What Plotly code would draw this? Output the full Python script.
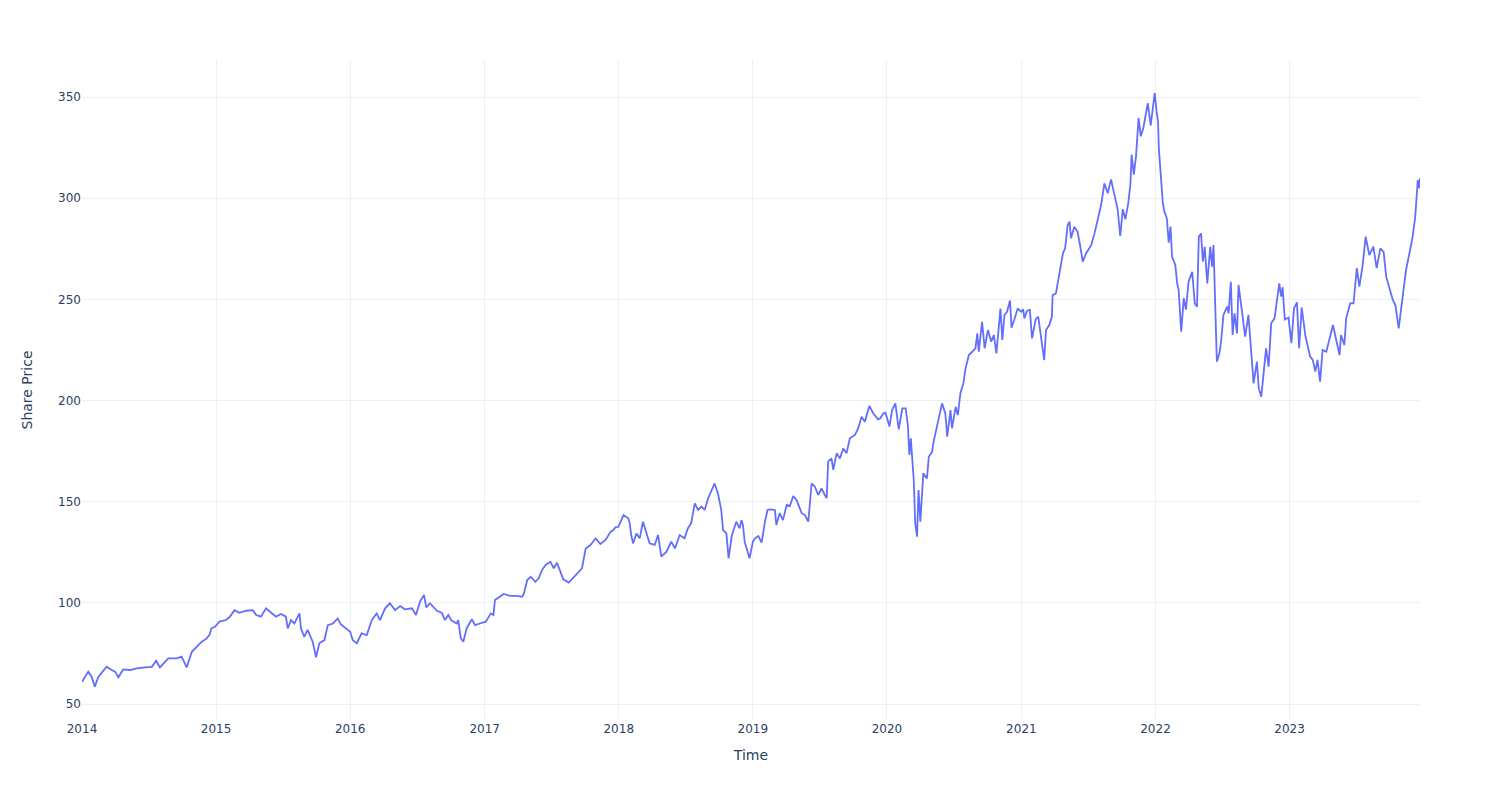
import plotly.graph_objects as go

# Share price readings per year: month-day and value
md_2014 = ["01-01","01-18","01-27","02-05","02-14","03-09","03-23","04-01","04-10","04-23","05-12","05-30",
           "06-22","07-10","07-22","08-01","08-24","09-16","09-29","10-13","10-27","11-09","11-23","12-06",
           "12-15","12-19","12-29"]
px_2014 = [61.0,66.0,63.5,58.6,63.2,68.4,66.8,66.0,63.2,67.1,66.8,67.6,
           68.1,68.4,71.4,68.1,72.6,72.6,73.4,68.1,75.8,78.3,80.8,82.3,
           84.5,87.4,88.2]

md_2015 = ["01-10","01-28","02-08","02-20","03-05","03-24","04-11","04-20","05-03","05-17","05-31","06-13",
           "06-27","07-10","07-15","07-24","08-02","08-16","08-20","08-29","09-07","09-21","09-30","10-09",
           "10-23","11-01","11-15","11-28","12-06","12-21"]
px_2015 = [90.7,91.5,93.2,96.4,95.1,96.1,96.4,94.0,93.2,97.3,95.1,93.2,
           94.5,93.2,87.4,91.5,89.8,94.8,87.4,83.2,86.6,80.8,73.1,80.0,
           81.6,89.0,89.8,92.3,89.5,87.4]

md_2016 = ["01-01","01-08","01-19","02-01","02-15","02-29","03-13","03-22","04-05","04-18","05-02","05-16",
           "05-29","06-17","06-28","07-09","07-20","07-26","08-05","08-24","09-06","09-15","09-24","10-03",
           "10-17","10-21","10-28","11-04","11-13","11-27","12-06","12-19"]
px_2016 = [85.7,81.6,80.0,84.9,84.1,91.5,94.8,91.5,97.3,99.8,96.4,98.4,
           96.8,97.3,94.0,100.6,103.9,97.8,99.8,96.1,95.1,91.5,94.0,91.2,
           89.8,91.5,82.5,80.8,87.4,91.9,89.0,89.8]

md_2017 = ["01-04","01-18","01-25","01-29","02-09","02-22","03-12","03-30","04-13","04-18","04-27","05-06",
           "05-19","05-28","06-06","06-16","06-29","07-08","07-17","07-25","08-03","08-18","09-01","09-14",
           "09-23","10-03","10-16","10-30","11-12","11-26","12-03","12-10","12-17","12-23","12-31"]
px_2017 = [90.7,94.8,94.0,101.4,102.7,104.4,103.4,103.4,103.0,104.7,111.3,112.9,
           110.4,112.1,116.2,118.7,120.3,117.1,119.8,116.2,111.6,110.0,112.9,115.4,
           117.1,126.9,128.6,131.9,129.1,131.1,133.5,135.2,136.0,137.3,137.6]

md_2018 = ["01-14","01-27","01-31","02-04","02-09","02-18","02-27","03-08","03-17","03-26","04-09","04-18",
           "04-27","05-11","05-24","06-03","06-16","06-29","07-08","07-17","07-27","08-05","08-14","08-23",
           "09-01","09-10","09-19","09-28","10-07","10-12","10-21","10-27","11-05","11-17","11-26","12-01",
           "12-05","12-10","12-23"]
px_2018 = [143.4,141.8,139.3,133.5,129.4,134.3,131.9,140.1,135.2,129.4,128.6,133.5,
           122.8,125.3,130.2,126.9,133.5,131.9,136.8,139.3,149.2,145.9,147.6,145.9,
           151.6,154.9,159.0,154.1,145.9,136.0,134.3,122.0,133.5,140.1,136.8,140.9,
           138.5,130.0,122.0]

md_2019 = ["01-01","01-07","01-16","01-25","02-03","02-10","02-16","03-02","03-06","03-15","03-24","04-03",
           "04-12","04-21","04-30","05-14","05-23","06-01","06-10","06-19","06-28","07-07","07-16","07-21",
           "07-25","08-03","08-08","08-17","08-26","09-04","09-13","09-22","10-06","10-15","10-24","11-02",
           "11-14","11-25","12-08","12-14","12-22","12-28"]
px_2019 = [130.2,131.9,133.0,129.8,140.1,145.9,146.2,145.9,138.5,144.3,140.9,148.4,
           147.9,152.8,150.8,144.3,143.4,140.1,159.0,157.4,153.3,156.6,153.3,151.7,
           169.8,171.4,165.7,173.9,171.4,176.3,173.9,181.3,183.0,186.3,192.0,189.5,
           197.3,193.6,190.7,191.2,193.6,194.0]

md_2020 = ["01-08","01-15","01-24","02-02","02-12","02-21","02-27","03-02","03-06","03-14","03-18","03-23",
           "03-27","04-01","04-09","04-19","04-24","05-03","05-07","05-12","05-21","05-30","06-08","06-13",
           "06-22","06-26","07-06","07-12","07-19","07-27","08-02","08-11","08-20","08-29","09-03","09-07",
           "09-16","09-23","10-02","10-11","10-18","10-25","11-05","11-10","11-16","11-23","12-01","12-05",
           "12-13","12-22","12-26"]
px_2020 = [187.2,195.3,198.6,185.8,196.1,196.1,187.9,173.1,181.3,160.7,139.3,132.7,
           155.8,140.1,164.0,161.5,172.2,174.7,179.6,183.8,190.4,198.6,193.6,182.1,
           195.3,186.3,196.9,192.8,203.6,208.5,215.9,222.5,224.1,225.8,233.2,224.1,
           238.9,225.8,234.8,229.1,232.4,223.3,245.5,229.9,242.3,243.9,249.4,236.0,
           240.2,245.5,244.7]

md_2021 = ["01-01","01-06","01-09","01-16","01-24","01-30","02-09","02-16","02-25","03-04","03-09","03-18",
           "03-25","03-27","04-05","04-10","04-17","04-24","04-30","05-07","05-12","05-16","05-25","06-03",
           "06-12","06-17","06-26","07-10","07-19","07-28","08-06","08-15","08-24","09-02","09-11","09-20",
           "09-27","10-04","10-11","10-19","10-25","10-28","11-03","11-09","11-16","11-22","11-29","12-03",
           "12-11","12-19","12-30"]
px_2021 = [243.9,245.1,240.6,244.3,244.9,230.7,240.2,241.4,229.9,220.0,234.8,237.3,
           241.4,252.1,252.9,258.7,266.1,272.7,275.2,286.7,288.4,280.2,285.9,283.4,
           274.4,268.6,272.7,276.8,282.6,289.2,296.6,307.3,302.4,309.3,301.1,294.5,
           281.3,294.5,289.6,297.6,307.5,321.5,311.6,320.7,339.6,330.6,334.7,339.0,
           347.0,336.0,352.0]

md_2022 = ["01-04","01-08","01-10","01-16","01-21","01-25","02-01","02-06","02-11","02-15","02-24","03-01",
           "03-05","03-12","03-19","03-25","04-01","04-11","04-18","04-24","04-29","05-05","05-10","05-15",
           "05-22","05-30","06-04","06-08","06-11","06-17","06-24","06-29","07-05","07-15","07-19","07-25",
           "07-30","08-04","08-11","08-15","08-24","09-02","09-11","09-19","09-25","10-04","10-09","10-16",
           "10-22","10-29","11-05","11-12","11-21","11-27","12-04","12-09","12-13","12-19","12-29"]
px_2022 = [342.9,337.8,325.0,309.5,297.5,293.5,290.0,278.0,286.0,271.1,267.0,257.9,
           254.6,234.0,250.6,244.9,258.7,263.6,248.0,246.4,281.0,282.6,268.6,276.0,
           257.9,276.0,266.1,276.8,253.0,219.2,223.3,229.9,242.3,246.4,243.1,258.7,
           232.4,243.1,233.2,257.1,244.7,231.6,242.3,222.5,208.5,219.2,206.1,201.9,
           212.6,225.8,216.7,238.2,240.6,249.7,257.9,251.3,256.0,240.0,241.0]

md_2023 = ["01-06","01-13","01-21","01-27","02-03","02-13","02-26","03-05","03-12","03-18","03-25","04-01",
           "04-11","04-20","04-29","05-08","05-17","05-21","05-30","06-04","06-15","06-24","07-03","07-10",
           "07-19","07-27","08-06","08-17","08-26","09-05","09-14","09-21","09-30","10-09","10-16","10-25",
           "11-03","11-14","11-25","12-02","12-09","12-13","12-16","12-20","12-22"]
px_2023 = [228.3,245.5,248.5,225.8,246.0,232.0,221.7,220.1,214.3,220.1,209.3,225.0,
           224.1,231.5,237.3,229.9,222.5,232.4,227.4,240.6,248.0,248.0,265.4,256.3,
           267.0,281.0,271.9,276.0,265.4,275.2,273.5,261.2,255.4,249.7,247.2,235.7,
           248.8,264.5,274.4,281.0,290.8,300.7,309.0,304.9,309.8]

years = [2014, 2015, 2016, 2017, 2018, 2019, 2020, 2021, 2022, 2023]
md_lists = [md_2014, md_2015, md_2016, md_2017, md_2018, md_2019, md_2020, md_2021, md_2022, md_2023]
px_lists = [px_2014, px_2015, px_2016, px_2017, px_2018, px_2019, px_2020, px_2021, px_2022, px_2023]

dates, prices = [], []
for y, mds, pxs in zip(years, md_lists, px_lists):
    dates += [f"{y}-{m}" for m in mds]
    prices += pxs

fig = go.Figure(go.Scatter(x=dates, y=prices, mode="lines",
                           line=dict(color="#636efa", width=1.8)))

fig.update_layout(
    template="plotly_white",
    width=1500, height=800,
    margin=dict(l=82, r=80, t=60, b=80),
    font=dict(family="DejaVu Sans", color="#2a3f5f", size=12),
    xaxis=dict(title=dict(text="Time", font=dict(size=14)),
               range=["2014-01-01", "2023-12-22"], dtick="M12", tickformat="%Y"),
    yaxis=dict(title=dict(text="Share Price", font=dict(size=14), standoff=22),
               range=[42.1, 368.3], dtick=50),
    showlegend=False,
)

fig.write_html("out.html")
